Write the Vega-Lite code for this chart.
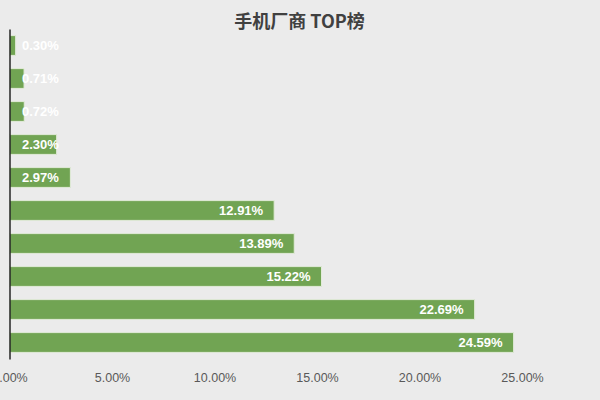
{
  "$schema": "https://vega.github.io/schema/vega-lite/v6.json",
  "width": 574,
  "height": 330,
  "autosize": {"type": "none"},
  "padding": {"left": 9.5, "top": 29, "right": 16.5, "bottom": 41},
  "background": "#ebebeb",
  "config": {"view": {"stroke": null}},
  "title": {"text": "手机厂商 TOP榜", "font": "Noto Sans CJK SC", "fontSize": 18, "fontWeight": "bold", "color": "#404040", "anchor": "middle", "offset": -3, "dx": 3},
  "data": {"values": [
    {"rank": "1", "share": 0.2459},
    {"rank": "2", "share": 0.2269},
    {"rank": "3", "share": 0.1522},
    {"rank": "4", "share": 0.1389},
    {"rank": "5", "share": 0.1291},
    {"rank": "6", "share": 0.0297},
    {"rank": "7", "share": 0.0230},
    {"rank": "8", "share": 0.0072},
    {"rank": "9", "share": 0.0071},
    {"rank": "10", "share": 0.0030}
  ]},
  "encoding": {
    "y": {
      "field": "rank", "type": "nominal",
      "sort": ["10", "9", "8", "7", "6", "5", "4", "3", "2", "1"],
      "scale": {"paddingInner": 0.4, "paddingOuter": 0.2},
      "axis": {"labels": false, "ticks": false, "domain": true, "domainColor": "#262626", "domainWidth": 1.5, "title": null, "grid": false, "zindex": 1}
    }
  },
  "layer": [
    {
      "mark": {"type": "bar", "color": "#71A453", "stroke": "#e2ebd9", "strokeWidth": 1},
      "encoding": {
        "x": {
          "field": "share", "type": "quantitative",
          "scale": {"domain": [0, 0.28], "nice": false},
          "axis": {"values": [0, 0.05, 0.1, 0.15, 0.2, 0.25], "format": ".2%", "labelColor": "#595959", "labelFontSize": 12.5, "labelFont": "Liberation Sans", "ticks": false, "domain": false, "grid": false, "labelPadding": 12, "labelFlush": false, "title": null}
        }
      }
    },
    {
      "transform": [{"filter": "datum.share >= 0.05"}],
      "mark": {"type": "text", "align": "right", "baseline": "middle", "dx": -11, "color": "white", "fontWeight": "bold", "fontSize": 13, "font": "Liberation Sans"},
      "encoding": {
        "x": {"field": "share", "type": "quantitative"},
        "text": {"field": "share", "type": "quantitative", "format": ".2%"}
      }
    },
    {
      "transform": [{"filter": "datum.share < 0.05"}],
      "mark": {"type": "text", "align": "left", "baseline": "middle", "dx": 12.5, "color": "white", "fontWeight": "bold", "fontSize": 13, "font": "Liberation Sans"},
      "encoding": {
        "x": {"datum": 0, "type": "quantitative"},
        "text": {"field": "share", "type": "quantitative", "format": ".2%"}
      }
    }
  ]
}
